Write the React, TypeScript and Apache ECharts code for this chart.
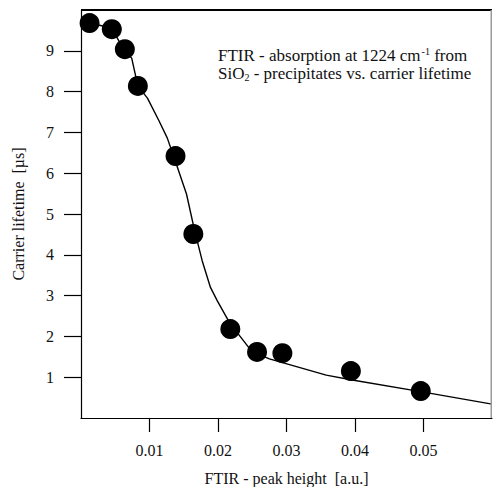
import React, { useEffect, useRef } from "react";
import * as echarts from "echarts";

// Measured data points (FTIR peak height [a.u.], carrier lifetime [µs])
const pointX = [0.00125, 0.0045, 0.0064, 0.0083, 0.0138, 0.0164, 0.0218, 0.0257, 0.0294, 0.0394, 0.0496];
const pointY = [9.68, 9.53, 9.04, 8.14, 6.42, 4.51, 2.18, 1.62, 1.59, 1.15, 0.66];

// Guide curve vertices
const curveX = [0.00125, 0.00446, 0.0062, 0.0074, 0.0083, 0.0097, 0.0114, 0.0126, 0.0139, 0.0154, 0.0166, 0.0177, 0.0189, 0.0199, 0.0217, 0.0249, 0.0275, 0.0358, 0.0396, 0.0498, 0.06];
const curveY = [9.68, 9.56, 9.04, 8.82, 8.14, 7.84, 7.28, 6.86, 6.23, 5.49, 4.58, 3.85, 3.2, 2.87, 2.33, 1.64, 1.45, 1.05, 0.93, 0.64, 0.34];

const xTicks = [0.01, 0.02, 0.03, 0.04, 0.05];
const yTicks = [1, 2, 3, 4, 5, 6, 7, 8, 9];

const X_MIN = 0;
const X_MAX = 0.06;
const Y_MIN = 0;
const Y_MAX = 10;

const FONT = "Liberation Serif";
const INK = "#111";

export default function App() {
  const ref = useRef<HTMLDivElement>(null);

  useEffect(() => {
    if (!ref.current) return;
    const chart = echarts.init(ref.current, null, { renderer: "svg" });
    const points = pointX.map((x, i) => [x, pointY[i]]);
    const curve = curveX.map((x, i) => [x, curveY[i]]);

    chart.setOption({
      animation: false,
      backgroundColor: "#fff",
      grid: {
        left: 81,
        top: 10,
        right: 1,
        bottom: 69,
        containLabel: false,
        outerBoundsMode: "none",
      },
      xAxis: {
        type: "value",
        min: X_MIN,
        max: X_MAX,
        interval: 0.01,
        position: "bottom",
        name: "FTIR - peak height  [a.u.]",
        nameLocation: "middle",
        nameGap: 52,
        nameTextStyle: { fontFamily: FONT, fontSize: 16, color: INK },
        axisLine: { show: true, onZero: false, lineStyle: { color: "#000", width: 1.2 } },
        axisTick: { show: true, inside: false, length: 14, customValues: xTicks, lineStyle: { color: "#000", width: 1.2 } },
        axisLabel: { customValues: xTicks, margin: 24, fontFamily: FONT, fontSize: 16, color: INK, formatter: (v: number) => v.toFixed(2) },
        splitLine: { show: false },
      },
      yAxis: {
        type: "value",
        min: Y_MIN,
        max: Y_MAX,
        interval: 1,
        position: "left",
        name: "Carrier lifetime  [µs]",
        nameLocation: "middle",
        nameGap: 55,
        nameTextStyle: { fontFamily: FONT, fontSize: 16, color: INK },
        axisLine: { show: true, onZero: false, lineStyle: { color: "#000", width: 1.2 } },
        axisTick: { show: true, inside: false, length: 17, customValues: yTicks, lineStyle: { color: "#000", width: 1.2 } },
        axisLabel: { customValues: yTicks, margin: 27, fontFamily: FONT, fontSize: 16, color: INK },
        splitLine: { show: false },
      },
      series: [
        {
          type: "line",
          data: curve,
          showSymbol: false,
          smooth: false,
          clip: false,
          lineStyle: { color: "#000", width: 1.4 },
          z: 2,
        },
        {
          type: "scatter",
          data: points,
          symbol: "circle",
          symbolSize: 20,
          clip: false,
          itemStyle: { color: "#000", opacity: 1 },
          z: 3,
        },
      ],
      graphic: [
        {
          id: "note",
          type: "text",
          left: 218,
          top: 46,
          style: {
            text: "FTIR - absorption at 1224 {s|cm}{sup|-1} from\n{s|SiO}{sub|2}{s| - precipitates vs. carrier lifetime}",
            fontFamily: FONT,
            fontSize: 17,
            lineHeight: 18,
            fill: INK,
            rich: {
              s: { fontFamily: FONT, fontSize: 17, fill: INK, lineHeight: 18 },
              sup: { fontFamily: FONT, fontSize: 10, fill: INK, verticalAlign: "top", lineHeight: 18, padding: [0, 0, 5, 1] },
              sub: { fontFamily: FONT, fontSize: 10, fill: INK, verticalAlign: "bottom", lineHeight: 18, padding: [5, 0, 0, 0] },
            },
          },
        },
      ],
    });

    // Frame (top and right edges) placed through the chart's own scales
    const tl = chart.convertToPixel({ gridIndex: 0 }, [X_MIN, Y_MAX]) as number[];
    const tr = chart.convertToPixel({ gridIndex: 0 }, [X_MAX, Y_MAX]) as number[];
    const br = chart.convertToPixel({ gridIndex: 0 }, [X_MAX, Y_MIN]) as number[];
    if (tl && tr && br) {
      chart.setOption({
        graphic: [
          {
            id: "frameTop",
            type: "rect",
            z: 10,
            shape: { x: tl[0], y: tl[1] - 1, width: tr[0] - tl[0], height: 2 },
            style: { fill: "#000" },
          },
          {
            id: "frameRight",
            type: "rect",
            z: 10,
            shape: { x: br[0] - 1.5, y: tr[1], width: 1.5, height: br[1] - tr[1] },
            style: { fill: "#999" },
          },
        ],
      });
    }

    return () => chart.dispose();
  }, []);

  return <div ref={ref} style={{ position: "fixed", left: 0, top: 0, width: 493, height: 487 }} />;
}
